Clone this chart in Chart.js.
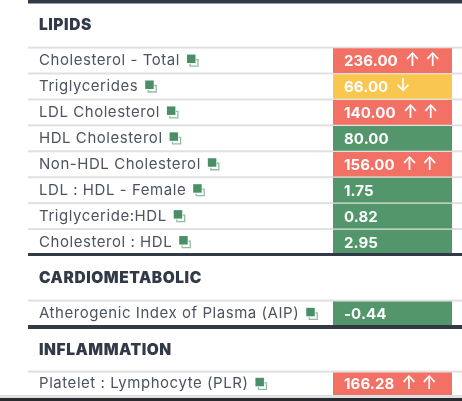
<!DOCTYPE html>
<html><head><meta charset="utf-8">
<style>
html,body{margin:0;padding:0;background:#fff;width:462px;height:401px;overflow:hidden}
canvas{position:absolute;left:0;display:block}
</style>
<script src="https://cdn.jsdelivr.net/npm/chart.js@4"></script>
</head><body>
<canvas id="lipids" width="462" height="264" style="top:0"></canvas>
<canvas id="cardio" width="462" height="83" style="top:253px"></canvas>
<canvas id="inflam" width="462" height="80" style="top:325px"></canvas>
<script>
const lipidTitle = 'LIPIDS';
const lipidLabels = ['Cholesterol - Total','Triglycerides','LDL Cholesterol','HDL Cholesterol','Non-HDL Cholesterol','LDL : HDL - Female','Triglyceride:HDL','Cholesterol : HDL'];
const lipidValues = ['236.00','66.00','140.00','80.00','156.00','1.75','0.82','2.95'];
const lipidFlags = ['high','low','high','ok','high','ok','ok','ok'];
const lipidCells = [1,1,1,1,1,1,1,1];

const cardioTitle = 'CARDIOMETABOLIC';
const cardioLabels = ['Atherogenic Index of Plasma (AIP)'];
const cardioValues = ['-0.44'];
const cardioFlags = ['ok'];
const cardioCells = [1];

const inflamTitle = 'INFLAMMATION';
const inflamLabels = ['Platelet : Lymphocyte (PLR)'];
const inflamValues = ['166.28'];
const inflamFlags = ['high'];
const inflamCells = [1];

const COLORS = {high:'#f27064', low:'#f9c750', ok:'#53966c'};
const ARROWS = {high:'↑ ↑', low:'↓', ok:''};
const DARK = '#323a48', RULE = '#e0e0e0', TEXT = '#4c545f';
const FAMILY = 'Inter, "Noto Sans", sans-serif';
const LABEL_SP = '0.55px';
const LABEL_FONT = 15;

function tablePlugin(valueTexts, flags, topBar, footer){
  return {
    id:'tableDecor',
    beforeDraw(chart){
      const c = chart.ctx, y = chart.scales.y, n = flags.length;
      const pitch = (y.bottom - y.top)/n;
      c.save();
      c.fillStyle = DARK;
      c.fillRect(28, 0, 434, topBar);
      c.fillStyle = RULE;
      for(let i=0;i<n;i++){
        const p = y.getPixelForValue(i) - pitch/2;
        c.fillRect(28, p-1, 434, 2);
      }
      c.restore();
      c.letterSpacing = LABEL_SP;
    },
    afterDraw(chart){
      const c = chart.ctx, y = chart.scales.y, x = chart.scales.x;
      c.save();
      c.textBaseline = 'middle';
      y.ticks.forEach((t,i)=>{
        const py = y.getPixelForValue(i);
        // copy icon after the label
        c.font = '400 '+LABEL_FONT+'px '+FAMILY;
        c.letterSpacing = LABEL_SP;
        const w = c.measureText(t.label).width;
        const ix = 39 + w + 7;
        c.strokeStyle = '#8fbfa2'; c.lineWidth = 1.3;
        c.beginPath();
        c.moveTo(ix+9, py-1); c.lineTo(ix+11, py-1); c.lineTo(ix+11, py+5.5); c.lineTo(ix+3, py+5.5); c.lineTo(ix+3, py+3.5);
        c.stroke();
        c.fillStyle = '#4b8f68';
        c.fillRect(ix, py-6, 8.5, 8.5);
        // value and flag arrows inside the cell
        const vx = x.getPixelForValue(0) + 11;
        c.font = '700 15px '+FAMILY;
        c.letterSpacing = '0.1px';
        c.fillStyle = '#fff';
        c.textAlign = 'left';
        c.fillText(valueTexts[i], vx, py+1);
        const vw = c.measureText(valueTexts[i]).width;
        c.font = '500 18px '+FAMILY;
        c.letterSpacing = '0px';
        c.fillText(ARROWS[flags[i]], vx+vw+7, py);
      });
      if(footer){
        c.fillStyle = RULE; c.fillRect(0, y.bottom-1, 462, 3);
        c.fillStyle = '#2a2b2e'; c.fillRect(0, y.bottom+2, 462, 6);
      }
      c.restore();
    }
  };
}

function build(id, title, labels, cells, valueTexts, flags, o){
  new Chart(document.getElementById(id), {
    type:'bar',
    data:{labels, datasets:[{data:cells, backgroundColor:flags.map(f=>COLORS[f]), barThickness:o.bar, borderWidth:0}]},
    options:{
      indexAxis:'y', responsive:false, animation:false, devicePixelRatio:1,
      layout:{autoPadding:false,padding:{left:39,right:10,top:0,bottom:o.bottom}},
      plugins:{
        legend:{display:false}, tooltip:{enabled:false},
        title:{display:true,text:title,align:'start',color:DARK,
          font:{family:FAMILY,size:15.5,weight:'900',lineHeight:1.2},
          padding:{top:16,bottom:o.titleBottom}}
      },
      scales:{
        x:{display:false,min:0,max:1,grid:{drawTicks:false},ticks:{display:false},afterFit(s){ s.height = 0; }},
        y:{
          afterFit(s){ s.width = 294; },
          grid:{display:false,drawTicks:false}, border:{display:false},
          ticks:{autoSkip:false,crossAlign:'far',padding:0,color:TEXT,font:{family:FAMILY,size:LABEL_FONT,weight:'400'}}
        }
      }
    },
    plugins:[tablePlugin(valueTexts, flags, o.top, o.footer)]
  });
}

build('lipids', lipidTitle, lipidLabels, lipidCells, lipidValues, lipidFlags, {bar:24,bottom:0,titleBottom:13,top:3.5});
build('cardio', cardioTitle, cardioLabels, cardioCells, cardioValues, cardioFlags, {bar:24,bottom:0,titleBottom:13,top:3});
build('inflam', inflamTitle, inflamLabels, inflamCells, inflamValues, inflamFlags, {bar:22,bottom:0,titleBottom:12,top:4,footer:true});
</script>
</body></html>
